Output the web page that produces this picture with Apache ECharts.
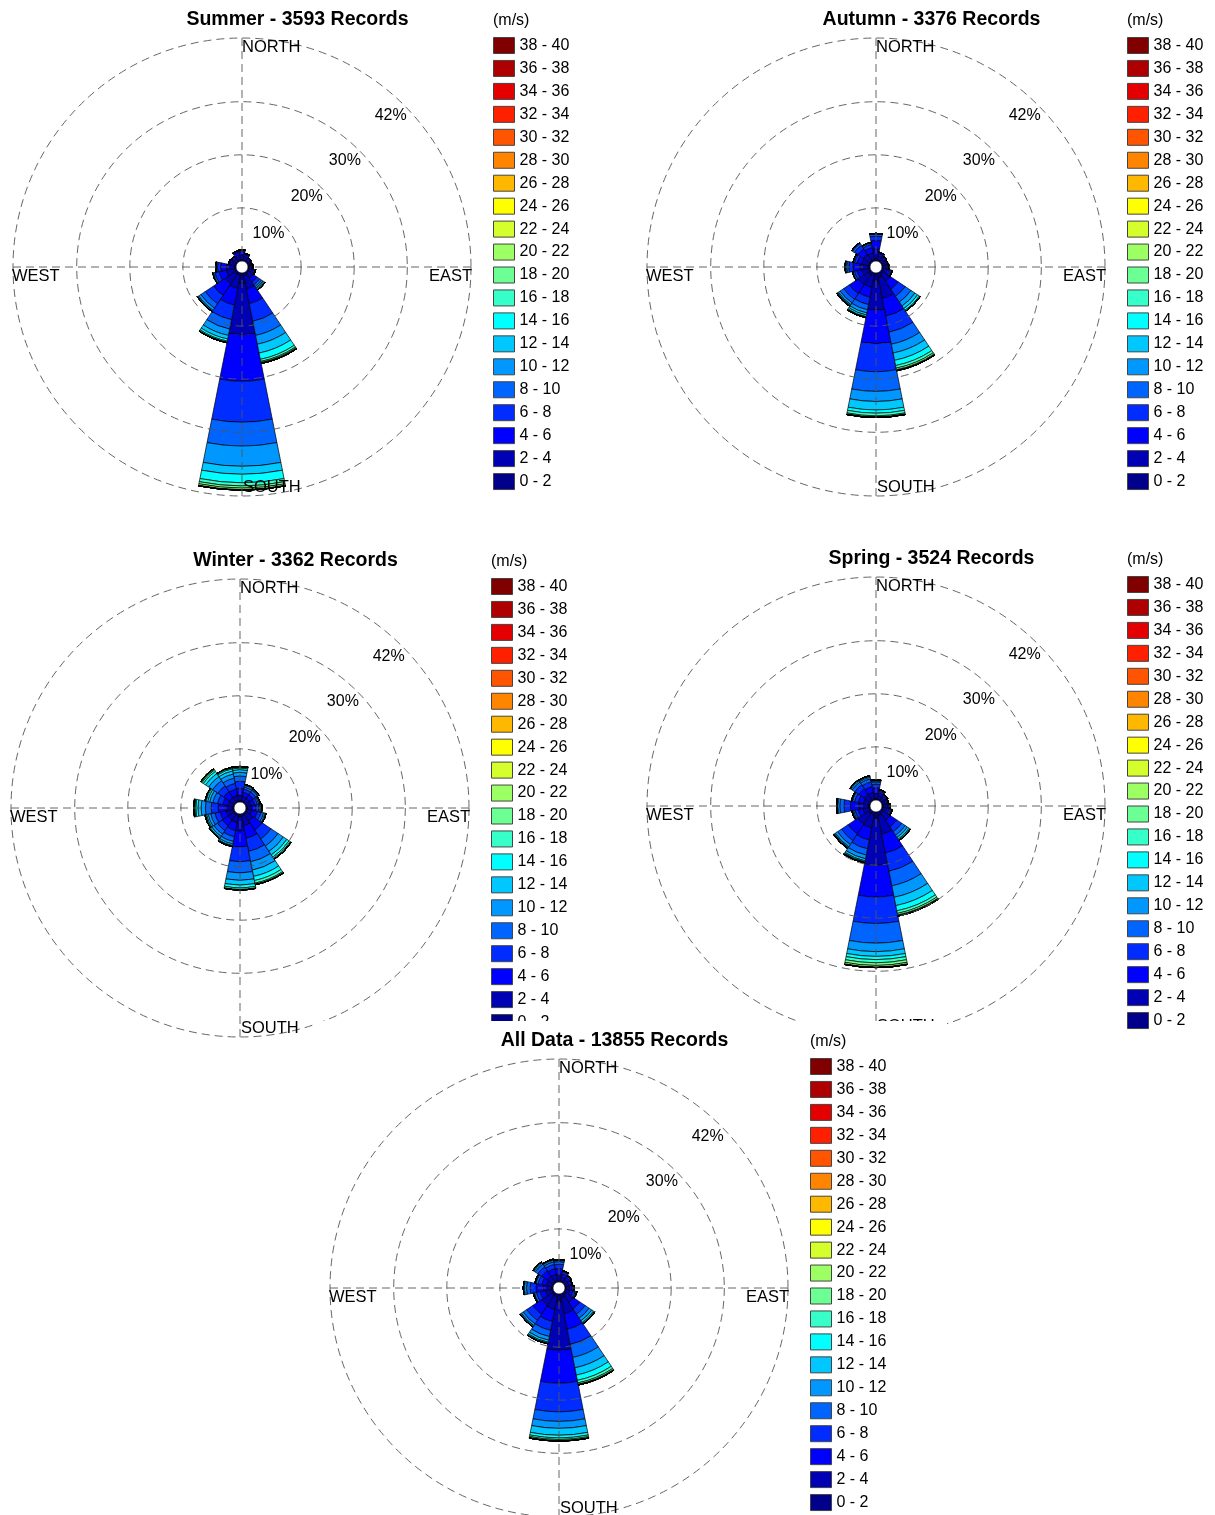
<!DOCTYPE html>
<html><head><meta charset="utf-8">
<script src="https://cdn.jsdelivr.net/npm/echarts@6/dist/echarts.min.js"></script>
<style>
html,body{margin:0;padding:0;background:#fff;width:1215px;height:1515px;overflow:hidden;position:relative}
.panel{position:absolute;background:#fff;width:630px;height:500px}
</style></head><body>
<div id="p0" class="panel" style="left:0px;top:0px"></div>
<div id="p1" class="panel" style="left:634px;top:0px"></div>
<div id="p2" class="panel" style="left:-2px;top:541px"></div>
<div id="p3" class="panel" style="left:634px;top:539px"></div>
<div id="p4" class="panel" style="left:317px;top:1021px;height:494px"></div>
<script>
// ---------- categories / labels ----------
const directions = ['N','NNE','NE','ENE','E','ESE','SE','SSE','S','SSW','SW','WSW','W','WNW','NW','NNW'];
const speedBins = ['0 - 2','2 - 4','4 - 6','6 - 8','8 - 10','10 - 12','12 - 14','14 - 16','16 - 18','18 - 20',
                   '20 - 22','22 - 24','24 - 26','26 - 28','28 - 30','30 - 32','32 - 34','34 - 36','36 - 38','38 - 40'];
const binColors = ['#00008b','#0000b4','#0000ff','#002cff','#0064ff','#0098ff','#00c8ff','#00ffff','#36ffca','#6cff94',
                   '#9cff64','#d4ff2c','#ffff00','#ffb800','#ff8400','#ff5400','#ff2000','#e40000','#ae0000','#800000'];
const ringValues = [10, 20, 30, 42];
const cardinalLabels = ['NORTH', 'EAST', 'SOUTH', 'WEST'];
const unitLabel = '(m/s)';
const panelTitles = ['Summer - 3593 Records', 'Autumn - 3376 Records', 'Winter - 3362 Records',
                     'Spring - 3524 Records', 'All Data - 13855 Records'];

// ---------- values: percent of records, one row per direction, one value per speed bin (0-2, 2-4, ...) ----------
const summerData = [
  [0.3, 0.9, 0.6, 0.2, 0.1],                                   // N
  [0.3, 0.6, 0.4, 0.15, 0.05],                                 // NNE
  [0.25, 0.4, 0.25, 0.1],                                      // NE
  [0.25, 0.3, 0.15, 0.1],                                      // ENE
  [0.25, 0.4, 0.2, 0.1, 0.05],                                 // E
  [0.3, 0.5, 0.35, 0.2, 0.1, 0.05],                            // ESE
  [0.4, 1.0, 0.9, 0.6, 0.4, 0.3, 0.2, 0.2, 0.1],               // SE
  [0.6, 2.5, 2.8, 3.4, 2.7, 1.7, 1.7, 1.2, 0.4, 0.2, 0.15, 0.05], // SSE
  [2.0, 9.6, 8.8, 7.7, 4.5, 3.8, 1.5, 1.6, 0.6, 0.4, 0.3, 0.1], // S
  [0.5, 2.5, 3.2, 2.8, 1.8, 1.2, 0.7, 0.4, 0.2, 0.1],          // SSW
  [0.5, 2.2, 2.6, 1.9, 1.0, 0.5, 0.2, 0.1],                    // SW
  [0.4, 1.5, 1.4, 0.8, 0.3, 0.1],                              // WSW
  [0.4, 1.4, 1.1, 0.6, 0.2, 0.1],                              // W
  [0.3, 0.6, 0.4, 0.15, 0.05],                                 // WNW
  [0.3, 0.5, 0.3, 0.15, 0.05],                                 // NW
  [0.3, 0.8, 0.6, 0.2, 0.1]                                    // NNW
];
const autumnData = [
  [0.5, 1.8, 1.6, 0.8, 0.4, 0.1],
  [0.3, 0.7, 0.45, 0.2, 0.05],
  [0.3, 0.5, 0.3, 0.15, 0.05],
  [0.3, 0.45, 0.3, 0.15],
  [0.3, 0.5, 0.3, 0.15, 0.05],
  [0.3, 0.7, 0.5, 0.3, 0.15, 0.05],
  [0.5, 1.6, 1.8, 1.6, 1.3, 0.9, 0.6, 0.4, 0.2],
  [1.0, 3.9, 3.4, 3.1, 2.3, 1.7, 1.4, 1.0, 0.5, 0.3, 0.15, 0.05],
  [1.5, 5.5, 6.3, 5.3, 3.7, 1.9, 1.6, 0.6, 0.5, 0.2, 0.1],
  [0.6, 2.2, 1.9, 1.4, 1.0, 0.6, 0.4, 0.3, 0.15, 0.05],
  [0.6, 2.3, 2.0, 1.3, 0.8, 0.4, 0.2, 0.1, 0.1],
  [0.4, 1.2, 0.9, 0.5, 0.3, 0.1],
  [0.4, 1.5, 1.3, 0.8, 0.4, 0.2, 0.1],
  [0.4, 1.2, 0.9, 0.5, 0.2, 0.1],
  [0.4, 1.4, 1.2, 0.8, 0.4, 0.2],
  [0.4, 1.2, 1.0, 0.6, 0.3, 0.1]
];
const winterData = [
  [0.3, 1.0, 1.3, 1.3, 1.0, 0.7, 0.5, 0.3, 0.2, 0.1],
  [0.3, 0.8, 0.8, 0.6, 0.4, 0.3, 0.2],
  [0.3, 0.8, 0.8, 0.6, 0.4, 0.2, 0.1],
  [0.3, 0.7, 0.7, 0.5, 0.3, 0.2, 0.1],
  [0.3, 0.8, 0.8, 0.5, 0.3, 0.2, 0.1],
  [0.3, 0.9, 1.0, 0.7, 0.5, 0.3, 0.2],
  [0.4, 1.5, 2.0, 2.0, 1.6, 1.2, 0.8, 0.5, 0.3, 0.2],
  [0.5, 1.8, 2.4, 2.5, 2.0, 1.6, 1.2, 0.8, 0.5, 0.2, 0.1],
  [0.6, 2.6, 3.0, 2.8, 2.1, 1.4, 0.9, 0.5, 0.3, 0.1],
  [0.4, 1.3, 1.5, 1.2, 0.9, 0.5, 0.3, 0.2],
  [0.4, 1.2, 1.3, 1.1, 0.8, 0.5, 0.3, 0.2],
  [0.4, 1.1, 1.2, 1.0, 0.8, 0.5, 0.3, 0.2, 0.1],
  [0.4, 1.2, 1.4, 1.3, 1.1, 0.8, 0.6, 0.4, 0.2, 0.1, 0.1],
  [0.3, 0.9, 1.0, 1.0, 0.9, 0.6, 0.4, 0.3, 0.2],
  [0.3, 1.0, 1.3, 1.3, 1.2, 0.9, 0.7, 0.5, 0.3, 0.2, 0.1],
  [0.3, 1.0, 1.2, 1.1, 1.0, 0.8, 0.6, 0.4, 0.2, 0.1]
];
const springData = [
  [0.3, 1.0, 1.0, 0.7, 0.4, 0.2, 0.1, 0.1],
  [0.3, 0.6, 0.5, 0.3, 0.2, 0.1],
  [0.3, 0.5, 0.35, 0.2, 0.1, 0.05],
  [0.25, 0.45, 0.3, 0.2, 0.1],
  [0.3, 0.5, 0.35, 0.2, 0.1, 0.05],
  [0.3, 0.6, 0.5, 0.3, 0.2, 0.1],
  [0.5, 1.6, 1.5, 1.1, 0.8, 0.5, 0.4, 0.2, 0.1],
  [0.8, 3.5, 3.6, 3.5, 2.8, 2.2, 1.6, 1.0, 0.5, 0.3, 0.15, 0.05],
  [1.2, 8.8, 6.0, 5.0, 3.7, 1.6, 0.9, 0.6, 0.6, 0.5, 0.3, 0.1],
  [0.6, 2.5, 2.3, 1.7, 1.2, 0.7, 0.4, 0.2, 0.1, 0.1],
  [0.6, 2.4, 2.2, 1.5, 0.9, 0.5, 0.2, 0.1, 0.1],
  [0.4, 1.0, 0.9, 0.6, 0.3, 0.2, 0.1],
  [0.4, 1.7, 1.6, 1.2, 0.8, 0.4, 0.2],
  [0.3, 1.0, 1.0, 0.7, 0.4, 0.2],
  [0.4, 1.2, 1.2, 0.9, 0.6, 0.3, 0.2],
  [0.4, 1.1, 1.1, 0.9, 0.6, 0.3, 0.2, 0.1]
];
const allData = [
  [0.35, 1.1, 1.1, 0.8, 0.5, 0.2, 0.1, 0.05],
  [0.3, 0.7, 0.6, 0.35, 0.2, 0.05],
  [0.3, 0.55, 0.45, 0.25, 0.1, 0.05],
  [0.3, 0.5, 0.4, 0.2, 0.1],
  [0.3, 0.55, 0.45, 0.25, 0.1, 0.05],
  [0.3, 0.7, 0.6, 0.4, 0.2, 0.1],
  [0.5, 1.6, 1.5, 1.2, 0.9, 0.6, 0.4, 0.2, 0.1],
  [0.8, 3.0, 3.0, 2.9, 2.5, 2.0, 1.4, 1.0, 0.5, 0.25, 0.1, 0.05],
  [1.5, 9.1, 6.2, 5.4, 1.8, 1.3, 1.3, 0.5, 0.3, 0.2, 0.1],
  [0.6, 2.4, 2.3, 1.7, 1.2, 0.7, 0.4, 0.2, 0.1],
  [0.6, 2.2, 2.0, 1.4, 0.8, 0.4, 0.2, 0.1],
  [0.4, 1.1, 1.0, 0.7, 0.4, 0.2],
  [0.4, 1.4, 1.4, 1.1, 0.7, 0.4, 0.2],
  [0.3, 1.0, 0.9, 0.7, 0.4, 0.2],
  [0.4, 1.2, 1.2, 0.9, 0.6, 0.3, 0.2],
  [0.4, 1.1, 1.1, 0.8, 0.5, 0.3, 0.2]
];
const panelData = [summerData, autumnData, winterData, springData, allData];

// ---------- layout (per panel, in panel pixels) ----------
const CX = 242, CY = 267, R_IN = 6, R_OUT = 229, R_MAX = 42;
const FONT = '"Liberation Sans", Arial, Helvetica, sans-serif';
const GRID_LINE = { color: '#555', width: 0.9, type: [8, 5] };

function buildOption(title, rows) {
  const series = speedBins.map((bin, b) => ({
    name: bin,
    type: 'bar',
    coordinateSystem: 'polar',
    polarIndex: 0,
    stack: 'wind',
    stackStrategy: 'all',
    barCategoryGap: '0%',
    silent: true,
    z: 2,
    itemStyle: { color: binColors[b], borderColor: '#000', borderWidth: 0.7 },
    data: rows.map(r => (r[b] !== undefined ? r[b] : 0))
  }));
  const txt = (text, x, y, align, size) => ({
    type: 'text', x: x, y: y, z: 100, silent: true,
    style: { text: text, font: (size || 16) + 'px ' + FONT, fill: '#000', align: align, verticalAlign: 'middle' }
  });
  return {
    animation: false,
    backgroundColor: '#fff',
    title: {
      text: title, left: 297.5, top: 10, textAlign: 'center', padding: 0,
      textStyle: { fontSize: 19.5, fontWeight: 'bold', fontFamily: FONT, color: '#000' }
    },
    legend: {
      data: speedBins.slice().reverse(),
      orient: 'vertical', left: 493, top: 37, padding: 0, height: 480,
      itemWidth: 21, itemHeight: 16, itemGap: 5.95, icon: 'rect',
      selectedMode: false,
      itemStyle: { borderColor: '#444', borderWidth: 1 },
      textStyle: { fontSize: 16, fontFamily: FONT, color: '#000', lineHeight: 16, padding: [0, 0, 0, 0] }
    },
    polar: [
      { center: [CX, CY], radius: [R_IN, R_OUT] },
      { center: [CX, CY], radius: [R_IN, R_OUT] },
      { center: [CX, CY], radius: [R_IN + 2, R_OUT] }
    ],
    angleAxis: [
      { polarIndex: 0, type: 'category', data: directions, startAngle: 90 + 180 / directions.length,
        boundaryGap: true, show: false },
      { polarIndex: 1, type: 'value', min: 0, max: 360, startAngle: 44, z: 10,
        axisLine: { show: false }, axisTick: { show: false }, axisLabel: { show: false }, splitLine: { show: false } },
      { polarIndex: 2, type: 'value', min: 0, max: 360, interval: 90, startAngle: 90, z: 10,
        axisLine: { show: false }, axisTick: { show: false }, axisLabel: { show: false },
        splitLine: { show: true, lineStyle: GRID_LINE } }
    ],
    radiusAxis: [
      { polarIndex: 0, type: 'value', min: 0, max: R_MAX, show: false },
      { polarIndex: 1, type: 'value', min: 0, max: R_MAX, z: 10,
        axisLine: { show: false },
        axisTick: { show: false, customValues: ringValues },
        axisLabel: { customValues: ringValues, formatter: '{value}%', margin: 0, verticalAlign: 'top',
                     fontSize: 16, fontFamily: FONT, color: '#000' },
        splitLine: { show: true, lineStyle: GRID_LINE } },
      { polarIndex: 2, type: 'value', min: 0, max: R_MAX, show: false }
    ],
    graphic: [
      txt(unitLabel, 493, 21, 'left'),
      txt(cardinalLabels[0], CX, CY - R_OUT + 9, 'left', 16.5),
      txt(cardinalLabels[1], CX + R_OUT + 1, CY + 9, 'right', 16.5),
      txt(cardinalLabels[2], CX + 1, CY + R_OUT - 9, 'left', 16.5),
      txt(cardinalLabels[3], CX - R_OUT - 1, CY + 9, 'left', 16.5)
    ],
    series: series
  };
}

panelData.forEach((rows, i) => {
  const chart = echarts.init(document.getElementById('p' + i), null, { renderer: 'canvas' });
  chart.setOption(buildOption(panelTitles[i], rows));
});
</script>
</body></html>
